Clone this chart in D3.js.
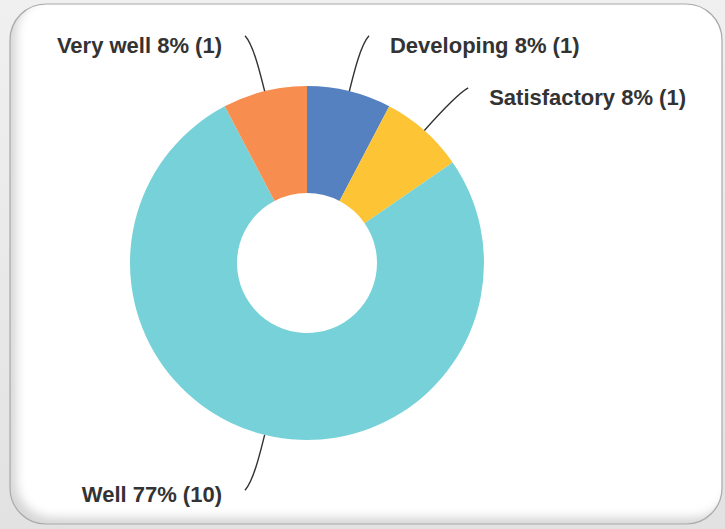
<!DOCTYPE html>
<html>
<head>
<meta charset="utf-8">
<script src="https://cdn.jsdelivr.net/npm/d3@7"></script>
<style>
  html, body { margin: 0; padding: 0; background: #ececec; }
  svg { display: block; }
</style>
</head>
<body>
<svg id="chart" width="725" height="529"></svg>
<script>
// Survey responses, in clockwise order from 12 o'clock
const categories = ["Developing", "Satisfactory", "Well", "Very well"];
const counts = [1, 1, 10, 1];
const sliceColors = ["#5581c1", "#fdc536", "#76d1d8", "#f88d50"];

const W = 725, H = 529;
const cx = 307, cy = 263;
const outerR = 177, innerR = 70;

const svg = d3.select("#chart");
const defs = svg.append("defs");

// inset shading on the card edges
const f = defs.append("filter").attr("id", "inset")
  .attr("x", "-5%").attr("y", "-5%").attr("width", "110%").attr("height", "110%");
f.append("feFlood").attr("flood-color", "#000").attr("flood-opacity", 0.32).attr("result", "col");
f.append("feComposite").attr("in", "col").attr("in2", "SourceAlpha").attr("operator", "out").attr("result", "inv");
f.append("feGaussianBlur").attr("in", "inv").attr("stdDeviation", 5).attr("result", "blur");
f.append("feOffset").attr("in", "blur").attr("dx", 7).attr("dy", -7).attr("result", "off");
f.append("feComposite").attr("in", "off").attr("in2", "SourceAlpha").attr("operator", "in").attr("result", "shadow");
const fm = f.append("feMerge");
fm.append("feMergeNode").attr("in", "SourceGraphic");
fm.append("feMergeNode").attr("in", "shadow");

// page background
const bg = defs.append("linearGradient").attr("id", "bg").attr("x1", 0).attr("y1", 0).attr("x2", 0).attr("y2", 1);
bg.append("stop").attr("offset", "0%").attr("stop-color", "#f0f0f0");
bg.append("stop").attr("offset", "100%").attr("stop-color", "#e2e2e2");
svg.append("rect").attr("width", W).attr("height", H).attr("fill", "url(#bg)");

// card
svg.append("rect")
  .attr("x", 10).attr("y", 4).attr("width", 712).attr("height", 520)
  .attr("rx", 36).attr("ry", 36)
  .attr("fill", "#ffffff")
  .attr("filter", "url(#inset)");
svg.append("rect")
  .attr("x", 10).attr("y", 4).attr("width", 712).attr("height", 520)
  .attr("rx", 36).attr("ry", 36)
  .attr("fill", "none")
  .attr("stroke", "#a9a9a9").attr("stroke-width", 1.2);

const total = d3.sum(counts);
const data = categories.map((c, i) => ({ name: c, value: counts[i], color: sliceColors[i] }));

const pie = d3.pie().sort(null).value(d => d.value).startAngle(0).endAngle(2 * Math.PI);
const arcs = pie(data);
const arc = d3.arc().innerRadius(innerR).outerRadius(outerR);

const g = svg.append("g").attr("transform", `translate(${cx},${cy})`);

g.selectAll("path.slice")
  .data(arcs)
  .join("path")
  .attr("class", "slice")
  .attr("d", arc)
  .attr("fill", d => d.data.color);

// leader lines and labels
const polar = (r, a) => [r * Math.sin(a), -r * Math.cos(a)];
const labels = svg.append("g");

arcs.forEach(d => {
  const mid = (d.startAngle + d.endAngle) / 2;
  const side = Math.sin(mid) >= 0 ? 1 : -1;
  const top = Math.cos(mid) > 0;
  const p0 = polar(outerR, mid);
  const c1 = polar(outerR + 20, mid);
  const c2 = polar(outerR + 48, mid);
  const e = polar(outerR + 57, mid);
  e[0] += side * 6;

  const path = d3.path();
  path.moveTo(cx + p0[0], cy + p0[1]);
  path.bezierCurveTo(cx + c1[0], cy + c1[1], cx + c2[0], cy + c2[1], cx + e[0], cy + e[1]);
  labels.append("path")
    .attr("d", path.toString())
    .attr("fill", "none")
    .attr("stroke", "#333")
    .attr("stroke-width", 1.4);

  const pct = Math.round(d.data.value / total * 100);
  labels.append("text")
    .attr("x", cx + e[0] + (side > 0 ? 21 : -23))
    .attr("y", cy + e[1] + (top ? 17 : 12))
    .attr("text-anchor", side > 0 ? "start" : "end")
    .attr("font-family", "'Liberation Sans', Arial, sans-serif")
    .attr("font-weight", "bold")
    .attr("font-size", "22px")
    .attr("fill", "#333")
    .text(`${d.data.name} ${pct}% (${d.data.value})`);
});
</script>
</body>
</html>
